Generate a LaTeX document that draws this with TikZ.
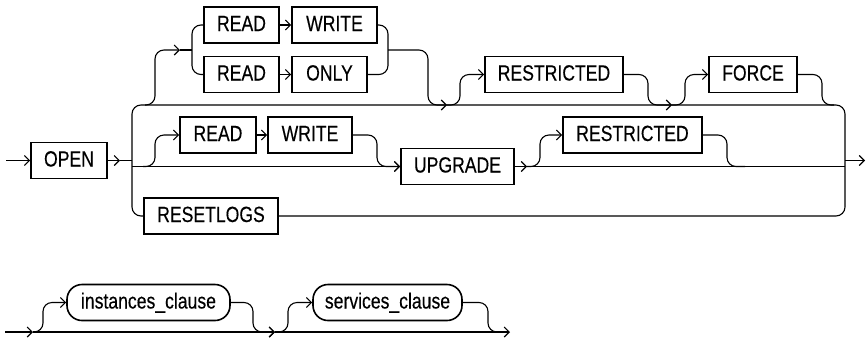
\documentclass[tikz,border=0pt]{standalone}
\usepackage{fontspec}
\setmainfont{Liberation Sans}[FakeStretch=0.8,FakeBold=0.3]
\usetikzlibrary{arrows.meta}
\begin{document}
\begin{tikzpicture}[x=1pt,y=-1pt,
  kw/.style={draw, line width=1.6pt, inner sep=0pt, minimum height=36pt,
    text height=15pt, text depth=3pt, font=\fontsize{22}{26}\selectfont},
  nt/.style={kw, rounded corners=15pt},
  conn/.style={line width=1.1pt, rounded corners=9pt},
  arr/.style={conn, -{Straight Barb[length=5pt,width=10pt,line width=1.1pt]}},
]
\useasboundingbox (0,0) rectangle (867,341);

% keyword boxes
\node[kw, minimum width=76pt]  (open)      at (69,160.5)   {OPEN};
\node[kw, minimum width=75pt]  (read1)     at (241.5,25)   {READ};
\node[kw, minimum width=85pt]  (write1)    at (334.5,25)   {WRITE};
\node[kw, minimum width=75pt]  (read2)     at (241.5,74.5) {READ};
\node[kw, minimum width=75pt]  (only)      at (329.5,74.5) {ONLY};
\node[kw, minimum width=138pt] (restr1)    at (554,74.5)   {RESTRICTED};
\node[kw, minimum width=88pt]  (force)     at (753,74.5)   {FORCE};
\node[kw, minimum width=76pt]  (read3)     at (218,135)    {READ};
\node[kw, minimum width=84pt]  (write3)    at (310,135)    {WRITE};
\node[kw, minimum width=113pt] (upgrade)   at (457.5,166.5) {UPGRADE};
\node[kw, minimum width=139pt] (restr2)    at (632.5,135)  {RESTRICTED};
\node[kw, minimum width=134pt] (resetlogs) at (211,216)    {RESETLOGS};
\node[nt, minimum width=163pt] (inst)      at (148.5,302.5) {instances\_clause};
\node[nt, minimum width=149pt] (serv)      at (387.5,302.5) {services\_clause};

% junction coordinates
\coordinate (start) at (6,160.5);
\coordinate (opj)   at (120,160.5);
\coordinate (lv)    at (132,160.5);
\coordinate (tl)    at (132,105);
\coordinate (tr)    at (845,105);
\coordinate (rv)    at (845,160.5);
\coordinate (end)   at (865,160.5);
\coordinate (ml)    at (132,166.5);
\coordinate (mr)    at (845,166.5);
\coordinate (tgs)   at (145,105);
\coordinate (tga)   at (180,50);
\coordinate (tgl)   at (192,50);
\coordinate (tgr)   at (388,50);
\coordinate (tgm)   at (447,105);
\coordinate (r1m)   at (672,105);
\coordinate (fm)    at (834,105);
\coordinate (m1)    at (143,166.5);
\coordinate (ua)    at (527,166.5);
\coordinate (r2m)   at (745,166.5);
\coordinate (bs)    at (5,332);
\coordinate (b1)    at (33,332);
\coordinate (b2)    at (275,332);
\coordinate (sm)    at (500,332);
\coordinate (be)    at (510,332);

% main entry
\draw[arr] (start) -- (open.west);
\draw[arr] (open.east) -- (opj);
\draw[conn] (opj) -- (lv);
% outer frame with RESETLOGS
\draw[conn] (resetlogs.west) -| (tl) -- (tr) |- (resetlogs.east);
% top group READ WRITE / READ ONLY
\draw[arr] (tgs) -| (155,50) -- (tga);
\draw[conn] (tga) -- (tgl);
\draw[conn] (read1.west) -| (tgl) |- (read2.west);
\draw[arr] (read1.east) -- (write1.west);
\draw[arr] (read2.east) -- (only.west);
\draw[conn] (write1.east) -| (tgr) |- (only.east);
\draw[arr] (tgr) -| (428,105) -- (tgm);
% RESTRICTED (top)
\draw[arr] (tgm) -| (460,74.5) -- (restr1.west);
\draw[arr] (restr1.east) -| (648,105) -- (r1m);
% FORCE
\draw[arr] (r1m) -| (685,74.5) -- (force.west);
\draw[conn] (force.east) -| (822,105) -- (fm);
% middle row
\draw[arr] (ml) -- (upgrade.west);
\draw[arr] (m1) -| (155,135) -- (read3.west);
\draw[arr] (read3.east) -- (write3.west);
\draw[arr] (write3.east) -| (377,166.5) -- (upgrade.west);
\draw[arr] (upgrade.east) -- (ua);
\draw[conn] (ua) -- (mr);
\draw[arr] (ua) -| (540,135) -- (restr2.west);
\draw[conn] (restr2.east) -| (727,166.5) -- (r2m);
% exit
\draw[arr] (rv) -- (end);

% second line
\draw[arr] (bs) -- (b1);
\draw[arr] (b1) -- (b2);
\draw[arr] (b2) -- (be);
\draw[arr] (b1) -| (43,302.5) -- (inst.west);
\draw[arr] (inst.east) -| (253,332) -- (b2);
\draw[arr] (b2) -| (288,302.5) -- (serv.west);
\draw[conn] (serv.east) -| (488,332) -- (sm);
\end{tikzpicture}
\end{document}
